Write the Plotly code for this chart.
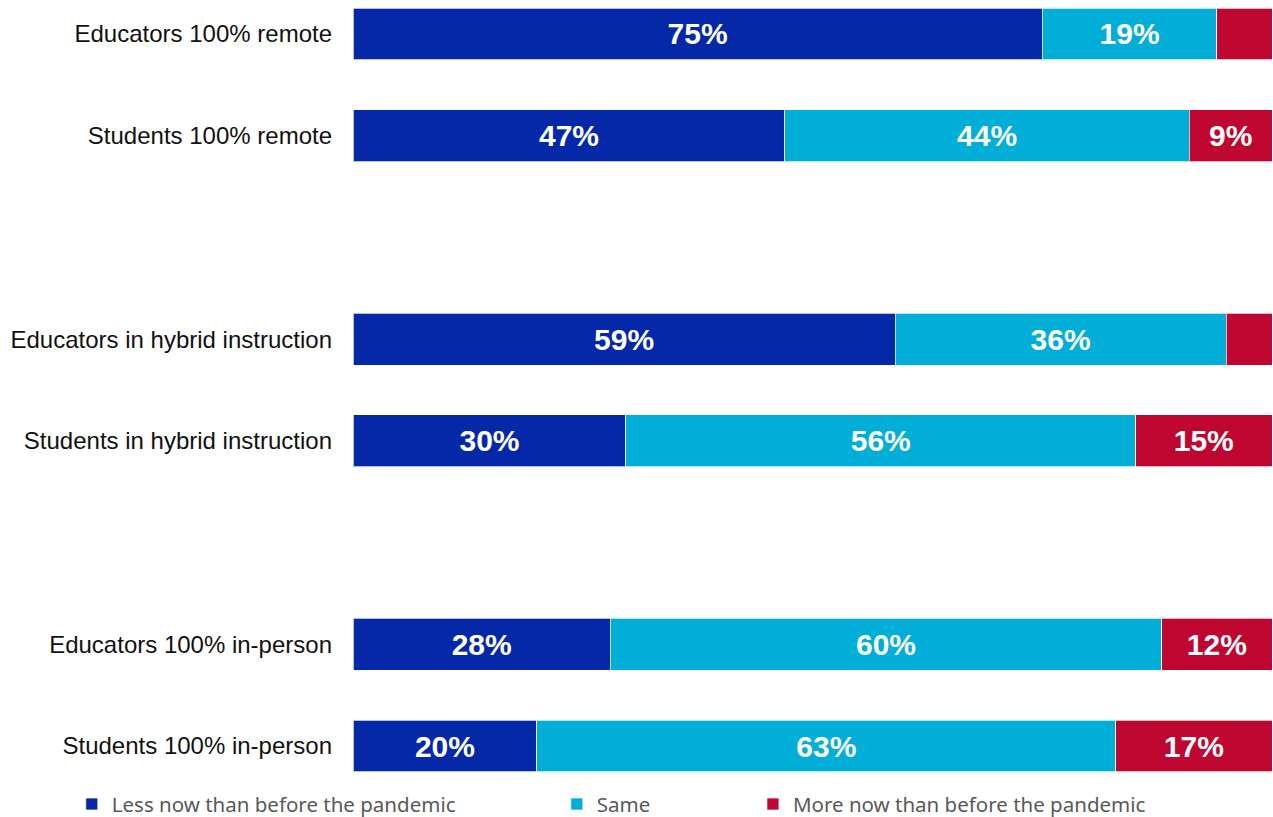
import plotly.graph_objects as go

categories = ["Educators 100% remote", "Students 100% remote", " ",
              "Educators in hybrid instruction", "Students in hybrid instruction", "  ",
              "Educators 100% in-person", "Students 100% in-person"]
less = [75, 47, None, 59, 30, None, 28, 20]
same = [19, 44, None, 36, 56, None, 60, 63]
more = [6, 9, None, 5, 15, None, 12, 17]

series_names = ["Less now than before the pandemic", "Same", "More now than before the pandemic"]
colors = ["#0528A9", "#00AED8", "#BE0630"]
legend_ids = ["legend", "legend2", "legend3"]

fig = go.Figure()
for name, vals, col, lg in zip(series_names, [less, same, more], colors, legend_ids):
    txt = [f"{v}%" if (v is not None and v >= 9) else "" for v in vals]
    fig.add_trace(go.Bar(
        y=categories, x=vals, name=name, orientation="h",
        marker=dict(color=col, line=dict(color="rgba(255,255,255,0.7)", width=1)),
        text=txt, textposition="inside", insidetextanchor="middle",
        textfont=dict(family="Liberation Sans, Arial", size=30, color="white", weight="bold"),
        legend=lg, hoverinfo="skip",
    ))

legend_font = dict(family="Noto Sans, sans-serif", size=20.5, color="#595959")
common = dict(orientation="h", yanchor="middle", y=-0.031, xanchor="left",
              font=legend_font, bgcolor="rgba(0,0,0,0)", itemwidth=30, tracegroupgap=0)

fig.update_layout(
    barmode="stack", barnorm="percent", bargap=0.49,
    width=1273, height=817,
    margin=dict(l=353, r=1, t=0, b=37, autoexpand=False),
    plot_bgcolor="white", paper_bgcolor="white",
    showlegend=True,
    legend=dict(x=-0.306, **common),
    legend2=dict(x=0.2218, **common),
    legend3=dict(x=0.4352, **common),
    xaxis=dict(range=[0, 100], visible=False, fixedrange=True),
    yaxis=dict(categoryorder="array", categoryarray=categories, range=[7.334, -0.334],
               showgrid=False, zeroline=False, showline=False, ticks="",
               ticklabelstandoff=20, fixedrange=True,
               tickfont=dict(family="Liberation Sans, Arial", size=24, color="#111111")),
)

fig.write_html("out.html", config={"displayModeBar": False},
               post_script="document.body.style.margin='0px';")
